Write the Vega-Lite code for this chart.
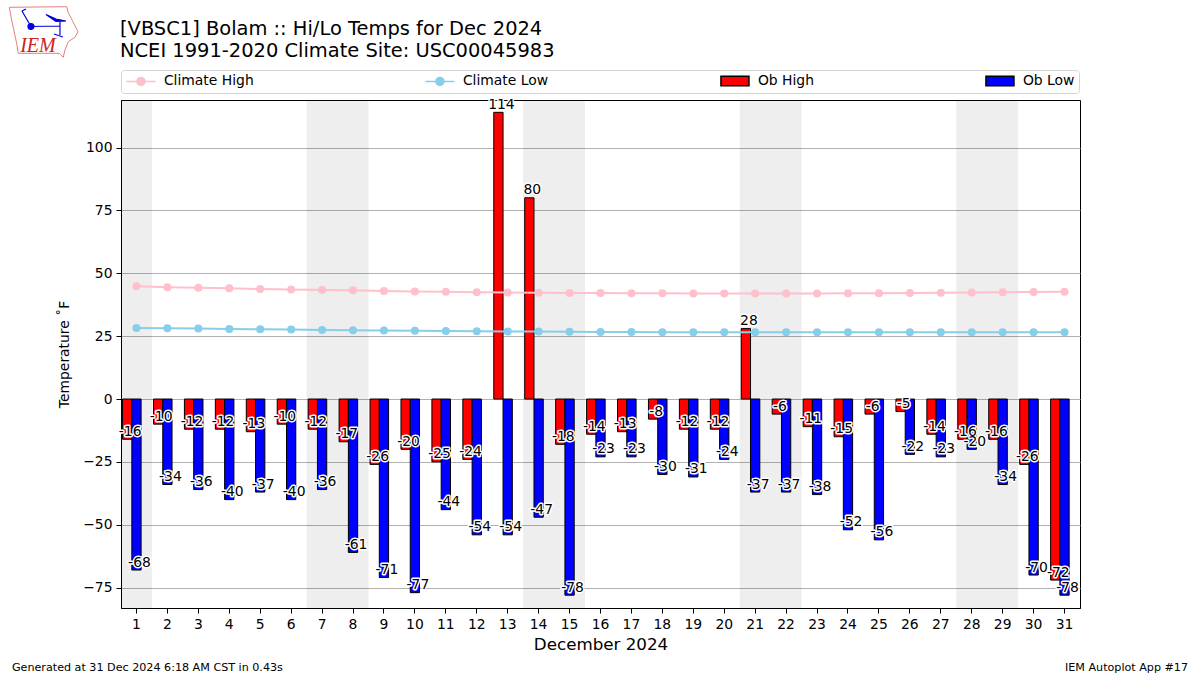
{
"$schema":"https://vega.github.io/schema/vega-lite/v6.json",
"width":959,"height":508,
"autosize":"none",
"padding":{"left":121,"top":100,"right":120,"bottom":67},
"background":"white",
"title":{"text":["[VBSC1] Bolam :: Hi/Lo Temps for Dec 2024","NCEI 1991-2020 Climate Site: USC00045983"],"anchor":"start","frame":"group","font":"DejaVu Sans","fontSize":19.45,"fontWeight":"normal","color":"black","lineHeight":22,"offset":-57,"dx":-1},
"config":{"font":"DejaVu Sans","view":{"stroke":"black","strokeWidth":1},"text":{"font":"DejaVu Sans"}},
"datasets":{
"weekend":[{"day":1},{"day":7},{"day":8},{"day":14},{"day":15},{"day":21},{"day":22},{"day":28},{"day":29}],
"obs":[
{"day":1,"series":"Ob High","value":-16},{"day":2,"series":"Ob High","value":-10},{"day":3,"series":"Ob High","value":-12},{"day":4,"series":"Ob High","value":-12},{"day":5,"series":"Ob High","value":-13},{"day":6,"series":"Ob High","value":-10},{"day":7,"series":"Ob High","value":-12},{"day":8,"series":"Ob High","value":-17},{"day":9,"series":"Ob High","value":-26},{"day":10,"series":"Ob High","value":-20},{"day":11,"series":"Ob High","value":-25},{"day":12,"series":"Ob High","value":-24},{"day":13,"series":"Ob High","value":114},{"day":14,"series":"Ob High","value":80},{"day":15,"series":"Ob High","value":-18},{"day":16,"series":"Ob High","value":-14},{"day":17,"series":"Ob High","value":-13},{"day":18,"series":"Ob High","value":-8},{"day":19,"series":"Ob High","value":-12},{"day":20,"series":"Ob High","value":-12},{"day":21,"series":"Ob High","value":28},{"day":22,"series":"Ob High","value":-6},{"day":23,"series":"Ob High","value":-11},{"day":24,"series":"Ob High","value":-15},{"day":25,"series":"Ob High","value":-6},{"day":26,"series":"Ob High","value":-5},{"day":27,"series":"Ob High","value":-14},{"day":28,"series":"Ob High","value":-16},{"day":29,"series":"Ob High","value":-16},{"day":30,"series":"Ob High","value":-26},{"day":31,"series":"Ob High","value":-72},
{"day":1,"series":"Ob Low","value":-68},{"day":2,"series":"Ob Low","value":-34},{"day":3,"series":"Ob Low","value":-36},{"day":4,"series":"Ob Low","value":-40},{"day":5,"series":"Ob Low","value":-37},{"day":6,"series":"Ob Low","value":-40},{"day":7,"series":"Ob Low","value":-36},{"day":8,"series":"Ob Low","value":-61},{"day":9,"series":"Ob Low","value":-71},{"day":10,"series":"Ob Low","value":-77},{"day":11,"series":"Ob Low","value":-44},{"day":12,"series":"Ob Low","value":-54},{"day":13,"series":"Ob Low","value":-54},{"day":14,"series":"Ob Low","value":-47},{"day":15,"series":"Ob Low","value":-78},{"day":16,"series":"Ob Low","value":-23},{"day":17,"series":"Ob Low","value":-23},{"day":18,"series":"Ob Low","value":-30},{"day":19,"series":"Ob Low","value":-31},{"day":20,"series":"Ob Low","value":-24},{"day":21,"series":"Ob Low","value":-37},{"day":22,"series":"Ob Low","value":-37},{"day":23,"series":"Ob Low","value":-38},{"day":24,"series":"Ob Low","value":-52},{"day":25,"series":"Ob Low","value":-56},{"day":26,"series":"Ob Low","value":-22},{"day":27,"series":"Ob Low","value":-23},{"day":28,"series":"Ob Low","value":-20},{"day":29,"series":"Ob Low","value":-34},{"day":30,"series":"Ob Low","value":-70},{"day":31,"series":"Ob Low","value":-78}],
"climate":[
{"day":1,"series":"Climate High","value":44.8},{"day":2,"series":"Climate High","value":44.4},{"day":3,"series":"Climate High","value":44.2},{"day":4,"series":"Climate High","value":44.0},{"day":5,"series":"Climate High","value":43.7},{"day":6,"series":"Climate High","value":43.5},{"day":7,"series":"Climate High","value":43.3},{"day":8,"series":"Climate High","value":43.2},{"day":9,"series":"Climate High","value":43.0},{"day":10,"series":"Climate High","value":42.8},{"day":11,"series":"Climate High","value":42.7},{"day":12,"series":"Climate High","value":42.5},{"day":13,"series":"Climate High","value":42.4},{"day":14,"series":"Climate High","value":42.3},{"day":15,"series":"Climate High","value":42.2},{"day":16,"series":"Climate High","value":42.2},{"day":17,"series":"Climate High","value":42.1},{"day":18,"series":"Climate High","value":42.1},{"day":19,"series":"Climate High","value":42.0},{"day":20,"series":"Climate High","value":42.0},{"day":21,"series":"Climate High","value":42.0},{"day":22,"series":"Climate High","value":42.0},{"day":23,"series":"Climate High","value":42.0},{"day":24,"series":"Climate High","value":42.1},{"day":25,"series":"Climate High","value":42.1},{"day":26,"series":"Climate High","value":42.2},{"day":27,"series":"Climate High","value":42.3},{"day":28,"series":"Climate High","value":42.4},{"day":29,"series":"Climate High","value":42.5},{"day":30,"series":"Climate High","value":42.6},{"day":31,"series":"Climate High","value":42.7},
{"day":1,"series":"Climate Low","value":28.2},{"day":2,"series":"Climate Low","value":28.1},{"day":3,"series":"Climate Low","value":28.0},{"day":4,"series":"Climate Low","value":27.8},{"day":5,"series":"Climate Low","value":27.7},{"day":6,"series":"Climate Low","value":27.6},{"day":7,"series":"Climate Low","value":27.4},{"day":8,"series":"Climate Low","value":27.3},{"day":9,"series":"Climate Low","value":27.2},{"day":10,"series":"Climate Low","value":27.1},{"day":11,"series":"Climate Low","value":27.0},{"day":12,"series":"Climate Low","value":26.9},{"day":13,"series":"Climate Low","value":26.8},{"day":14,"series":"Climate Low","value":26.8},{"day":15,"series":"Climate Low","value":26.7},{"day":16,"series":"Climate Low","value":26.6},{"day":17,"series":"Climate Low","value":26.6},{"day":18,"series":"Climate Low","value":26.5},{"day":19,"series":"Climate Low","value":26.5},{"day":20,"series":"Climate Low","value":26.5},{"day":21,"series":"Climate Low","value":26.5},{"day":22,"series":"Climate Low","value":26.5},{"day":23,"series":"Climate Low","value":26.5},{"day":24,"series":"Climate Low","value":26.5},{"day":25,"series":"Climate Low","value":26.5},{"day":26,"series":"Climate Low","value":26.5},{"day":27,"series":"Climate Low","value":26.5},{"day":28,"series":"Climate Low","value":26.5},{"day":29,"series":"Climate Low","value":26.5},{"day":30,"series":"Climate Low","value":26.5},{"day":31,"series":"Climate Low","value":26.5}]
},
"encoding":{
"x":{"field":"day","type":"ordinal","scale":{"type":"band","paddingInner":0,"paddingOuter":0,"domain":[1,2,3,4,5,6,7,8,9,10,11,12,13,14,15,16,17,18,19,20,21,22,23,24,25,26,27,28,29,30,31]},
"axis":{"title":"December 2024","titleFontSize":16.7,"titleFontWeight":"normal","titleColor":"black","titlePadding":6,"labelAngle":0,"labelFontSize":13.9,"labelColor":"black","labelPadding":4,"tickColor":"black","tickSize":5,"domainColor":"black","grid":false}}
},
"layer":[
{"data":{"name":"weekend"},"mark":{"type":"rect","fill":"black","fillOpacity":0.068},"encoding":{}},
{"data":{"name":"obs"},"mark":{"type":"bar","stroke":"black","strokeWidth":1},
"encoding":{
"xOffset":{"field":"series","type":"nominal","scale":{"domain":["Ob High","Ob Low","spacer"],"paddingInner":0,"paddingOuter":0.167}},
"y":{"field":"value","type":"quantitative","stack":null,"scale":{"domain":[-83.1,118.9],"nice":false,"zero":false},
"axis":{"title":"Temperature ˚F","titleFontSize":13.9,"titleFontWeight":"normal","titleColor":"black","titlePadding":11,"values":[-75,-50,-25,0,25,50,75,100],"labelFontSize":13.9,"labelColor":"black","labelPadding":4,"tickColor":"black","tickSize":5,"domainColor":"black","grid":true,"gridColor":"#b0b0b0","gridWidth":1}},
"color":{"field":"series","type":"nominal","legend":null,"scale":{"domain":["Ob High","Ob Low","Climate High","Climate Low"],"range":["#ff0000","#0000ff","#ffc0cb","#87ceeb"]}}
}},
{"data":{"name":"climate"},"mark":{"type":"line","strokeWidth":2,"point":{"size":64,"filled":true,"opacity":1}},
"encoding":{"y":{"field":"value","type":"quantitative"},"color":{"field":"series","type":"nominal","legend":null}}},
{"data":{"name":"obs"},"mark":{"type":"point","filled":true,"size":0,"strokeWidth":0},
"encoding":{"y":{"field":"value","type":"quantitative"},
"fill":{"field":"series","type":"nominal","scale":{"domain":["Climate High","Climate Low","Ob High","Ob Low"],"range":["#ffc0cb","#87ceeb","#ff0000","#0000ff"]},
"legend":{"title":null,"orient":"none","legendX":0,"legendY":-30,"direction":"horizontal","columns":4,"gridAlign":"each","columnPadding":168,"padding":4,"fillColor":"white","strokeColor":"#d5d5d5","cornerRadius":3,"labelFontSize":13.9,"labelColor":"black","labelOffset":16,"symbolSize":100,"symbolOffset":9,"symbolOpacity":1,"symbolStrokeWidth":1.5}},
"stroke":{"field":"series","type":"nominal","scale":{"domain":["Climate High","Climate Low","Ob High","Ob Low"],"range":["#ffc0cb","#87ceeb","#000000","#000000"]},
"legend":{"title":null,"orient":"none","legendX":0,"legendY":-30,"direction":"horizontal","columns":4,"gridAlign":"each","columnPadding":168,"padding":4,"fillColor":"white","strokeColor":"#d5d5d5","cornerRadius":3,"labelFontSize":13.9,"labelColor":"black","labelOffset":16,"symbolSize":100,"symbolOffset":9,"symbolOpacity":1,"symbolStrokeWidth":1.5}},
"shape":{"field":"series","type":"nominal","scale":{"domain":["Climate High","Climate Low","Ob High","Ob Low"],"range":["M-2.9,0H-0.8A0.8,0.8,0,1,1,0.8,0A0.8,0.8,0,1,1,-0.8,0M0.8,0H2.9","M-2.9,0H-0.8A0.8,0.8,0,1,1,0.8,0A0.8,0.8,0,1,1,-0.8,0M0.8,0H2.9","M-2.8,-0.95H2.8V0.95H-2.8Z","M-2.8,-0.95H2.8V0.95H-2.8Z"]},
"legend":{"title":null,"orient":"none","legendX":0,"legendY":-30,"direction":"horizontal","columns":4,"gridAlign":"each","columnPadding":168,"padding":4,"fillColor":"white","strokeColor":"#d5d5d5","cornerRadius":3,"labelFontSize":13.9,"labelColor":"black","labelOffset":16,"symbolSize":100,"symbolOffset":9,"symbolOpacity":1,"symbolStrokeWidth":1.5}}
}},
{"data":{"name":"obs"},"mark":{"type":"text","fontSize":13.9,"stroke":"white","strokeWidth":3,"strokeJoin":"round","dx":3,"dy":-3.5,"baseline":"alphabetic","align":"center"},
"encoding":{"xOffset":{"field":"series","type":"nominal"},"y":{"field":"value","type":"quantitative"},"text":{"field":"value","type":"nominal"}}},
{"data":{"name":"obs"},"mark":{"type":"text","fontSize":13.9,"fill":"black","dx":3,"dy":-3.5,"baseline":"alphabetic","align":"center"},
"encoding":{"xOffset":{"field":"series","type":"nominal"},"y":{"field":"value","type":"quantitative"},"text":{"field":"value","type":"nominal"}}},
{"data":{"values":[{"label":"Generated at 31 Dec 2024 6:18 AM CST in 0.43s"}]},"mark":{"type":"text","fontSize":11.15,"align":"left","baseline":"alphabetic","fill":"black","dx":-124.5,"dy":63},
"encoding":{"x":{"datum":1},"y":{"datum":-83.1},"text":{"field":"label","type":"nominal"}}},
{"data":{"values":[{"label":"IEM Autoplot App #17"}]},"mark":{"type":"text","fontSize":11.15,"align":"right","baseline":"alphabetic","fill":"black","dx":123.5,"dy":63},
"encoding":{"x":{"datum":31},"y":{"datum":-83.1},"text":{"field":"label","type":"nominal"}}},
{"data":{"values":[{"label":"logo"}]},"mark":{"type":"point","shape":"M-3.47,-2.47L2.27,-2.53L2.43,-1.93L2.9,-1.03L3.4,-0.03L3.1,0.53L2.43,0.97L2.1,1.8L1.93,2.53L1.53,2.13L-2.57,2.13L-2.73,1.13L-3.23,-1.2Z","size":400,"filled":false,"stroke":"#e57f7f","strokeWidth":1,"opacity":1,"xOffset":-92.5,"yOffset":-68},
"encoding":{"x":{"datum":1},"y":{"datum":118.9}}},
{"data":{"values":[{"label":"logo"}]},"mark":{"type":"point","shape":"M-2.2,-2.1L-1.3,-0.55M-1.3,-0.55L1.6,-0.6M1.6,-1.1L1.6,0.3M0.2,-1.75L1.2,-1.3L2.2,-1.1L1.2,-1.05ZM-2.2,-2.1L-1.8,-2.3M-1.6,-0.55A0.3,0.3,0,1,1,-1,-0.55A0.3,0.3,0,1,1,-1.6,-0.55M1,0.2L1.9,0.5","size":400,"filled":true,"fill":"#0000dd","stroke":"#0000dd","strokeWidth":1.2,"opacity":1,"xOffset":-92.5,"yOffset":-68},
"encoding":{"x":{"datum":1},"y":{"datum":118.9}}},
{"data":{"values":[{"label":"IEM"}]},"mark":{"type":"text","font":"Liberation Serif","fontStyle":"italic","fontSize":20,"fill":"#cc2222","align":"center","baseline":"alphabetic","dx":-98.5,"dy":-48},
"encoding":{"x":{"datum":1},"y":{"datum":118.9},"text":{"field":"label","type":"nominal"}}}
]
}
